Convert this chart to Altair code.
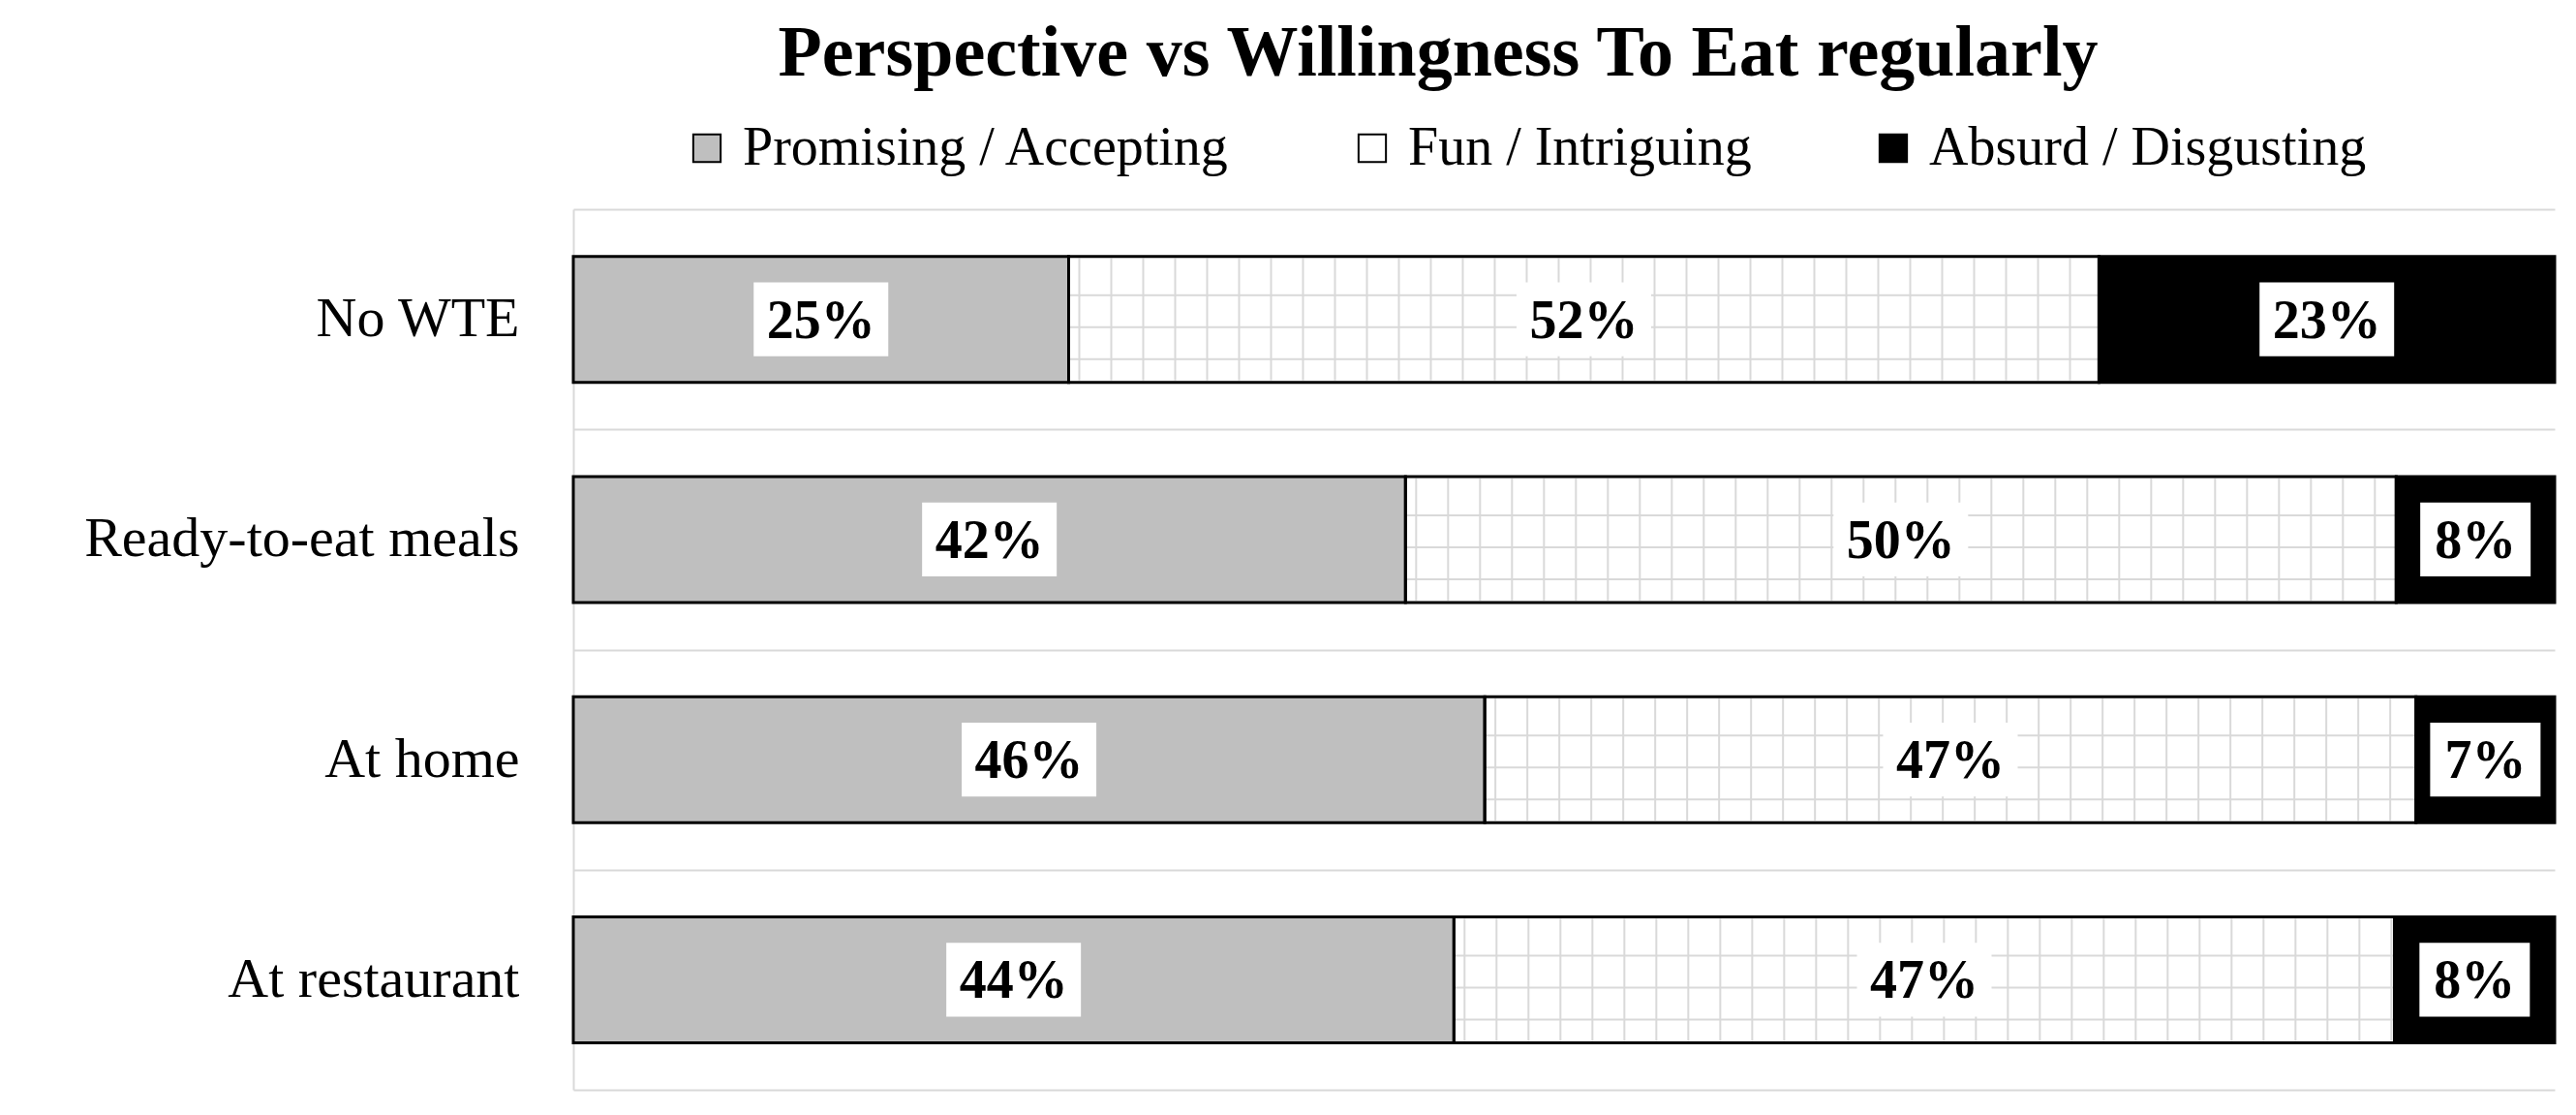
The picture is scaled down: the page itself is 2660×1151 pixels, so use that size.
import altair as alt
import pandas as pd

# ---- data ----
categories = ["No WTE", "Ready-to-eat meals", "At home", "At restaurant"]
series = ["Promising / Accepting", "Fun / Intriguing", "Absurd / Disgusting"]
promising = [25, 42, 46, 44]
fun = [52, 50, 47, 47]
absurd = [23, 8, 7, 8]
colors = ["#bfbfbf", "#ffffff", "#000000"]

title_text = "Perspective vs Willingness To Eat regularly"

# ---- layout / style constants ----
PLOT_W = 2046
PLOT_H = 909
BAR_H = 130
FONT = "Liberation Serif"
GRID = "#d9d9d9"
PAT_STEP = 33      # pattern cell size (px)
PAT_START = 11     # first pattern line after segment start (px)

rows = []
for i, c in enumerate(categories):
    vals = [promising[i], fun[i], absurd[i]]
    total = sum(vals)
    cum = 0
    for s, v in zip(series, vals):
        rows.append(dict(category=c, series=s, value=v,
                         start=cum / total, end=(cum + v) / total,
                         mid=(cum + v / 2) / total, label=f"{v}%"))
        cum += v
df = pd.DataFrame(rows)

fun_df = df[df.series == "Fun / Intriguing"].copy()
vrows = []
for r in fun_df.itertuples():
    px = r.start * PLOT_W + PAT_START
    while px < r.end * PLOT_W - 3:
        vrows.append(dict(category=r.category, pos=px / PLOT_W))
        px += PAT_STEP
vdf = pd.DataFrame(vrows)

xscale = alt.Scale(domain=[0, 1], nice=False, zero=True)
y_enc = alt.Y(
    "category:N", sort=categories,
    scale=alt.Scale(paddingInner=0, paddingOuter=0),
    axis=alt.Axis(title=None, labelFont=FONT, labelFontSize=58, labelColor="black",
                  labelPadding=56, ticks=False, domain=True, domainColor=GRID,
                  domainWidth=2, grid=True, gridColor=GRID, gridWidth=2,
                  tickBand="extent", labelLimit=1000),
)

bars = alt.Chart(df).mark_bar(size=BAR_H, strokeWidth=0).encode(
    y=y_enc,
    x=alt.X("start:Q", scale=xscale, axis=None),
    x2="end:Q",
    color=alt.Color(
        "series:N",
        scale=alt.Scale(domain=series, range=colors),
        legend=alt.Legend(
            title=None, orient="none", legendX=110, legendY=-91,
            direction="horizontal", symbolType="square", symbolSize=800,
            symbolStrokeColor="black", symbolStrokeWidth=2, symbolOpacity=1,
            labelFont=FONT, labelFontSize=56, labelColor="black",
            labelOffset=9, columnPadding=118, padding=0, labelLimit=1000,
        ),
    ),
)

vlines = alt.Chart(vdf).mark_tick(
    orient="vertical", size=BAR_H - 4, thickness=2, color=GRID, opacity=1
).encode(x=alt.X("pos:Q", scale=xscale, axis=None), y=y_enc)

hlines = [
    alt.Chart(fun_df).mark_rule(color=GRID, strokeWidth=2, yOffset=off).encode(
        x=alt.X("start:Q", scale=xscale, axis=None), x2="end:Q", y=y_enc)
    for off in (-25, 8, 41)
]

outline = alt.Chart(df).mark_bar(
    size=BAR_H, fillOpacity=0, stroke="black", strokeWidth=3
).encode(y=y_enc, x=alt.X("start:Q", scale=xscale, axis=None), x2="end:Q")

box3 = alt.Chart(df).transform_filter("length(datum.label) == 3").mark_point(
    shape="M-1,-0.547L1,-0.547L1,0.547L-1,0.547Z", size=139 ** 2,
    filled=True, color="white", opacity=1, strokeWidth=0,
).encode(x=alt.X("mid:Q", scale=xscale, axis=None), y=y_enc)

box2 = alt.Chart(df).transform_filter("length(datum.label) == 2").mark_point(
    shape="M-1,-0.667L1,-0.667L1,0.667L-1,0.667Z", size=114 ** 2,
    filled=True, color="white", opacity=1, strokeWidth=0,
).encode(x=alt.X("mid:Q", scale=xscale, axis=None), y=y_enc)

labels = alt.Chart(df).mark_text(
    font=FONT, fontSize=56, fontWeight="bold", color="black",
    baseline="alphabetic", dy=19,
).encode(x=alt.X("mid:Q", scale=xscale, axis=None), y=y_enc, text="label:N")

chart = alt.layer(bars, vlines, *hlines, outline, box3, box2, labels).properties(
    width=PLOT_W, height=PLOT_H,
    title=alt.Title(title_text, font=FONT, fontSize=74, fontWeight="bold",
                    color="black", anchor="middle", frame="group", dx=-130,
                    offset=31),
    padding={"left": 78, "top": 11, "right": 10, "bottom": 4},
    background="white",
).configure_view(stroke=None)

chart.save("out.html", embed_options={"renderer": "svg", "actions": False})
